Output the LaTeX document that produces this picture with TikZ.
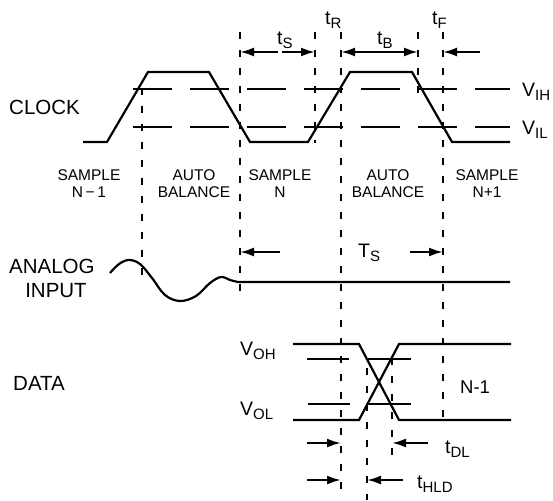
\documentclass[tikz,border=0pt]{standalone}
\usepackage{fontspec}
\setmainfont{Liberation Sans}
\usetikzlibrary{arrows.meta}
\newcommand{\sbx}[1]{\raisebox{-4pt}{\fontsize{15}{15}\selectfont #1}}
\begin{document}
\begin{tikzpicture}[x=1pt,y=-1pt,
  sig/.style={line width=2.2pt, line join=miter},
  vdash/.style={line width=2.1pt, dash pattern=on 7pt off 11pt},
  hdash/.style={line width=2.2pt, dash pattern=on 39pt off 18pt},
  arr/.style={line width=2.2pt, -{Latex[length=14pt,width=9pt]}},
  lab/.style={inner sep=0pt, anchor=base west, font=\fontsize{19.5}{19.5}\selectfont},
  big/.style={lab, font=\fontsize{20.5}{20.5}\selectfont},
  small/.style={inner sep=0pt, anchor=base, font=\fontsize{15.5}{15.5}\selectfont}]
\useasboundingbox (0,0) rectangle (553,500);

% vertical dashed reference lines
\coordinate (a1) at (142,88);  \coordinate (a2) at (142,283);
\coordinate (b1) at (240,32);  \coordinate (b2) at (240,292);
\coordinate (c1) at (315,32);  \coordinate (c2) at (315,143);
\coordinate (d1) at (341,32);  \coordinate (d2) at (341,500);
\coordinate (e1) at (418,32);  \coordinate (e2) at (418,100);
\coordinate (f1) at (443,32);  \coordinate (f2) at (443,422);
\coordinate (g1) at (367,368); \coordinate (g2) at (367,500);
\coordinate (h1) at (392,358); \coordinate (h2) at (392,463);
\foreach \p in {a,b,c,d,e,f,g,h} \draw[vdash] (\p1) -- (\p2);

% clock
\draw[sig] (83,142) -- (107,142) -- (148,72) -- (209,72) -- (250,142) -- (308,142)
  -- (350,72) -- (412,72) -- (452,142) -- (510,142);
\draw[hdash] (133,89) -- (510,89);
\draw[hdash] (133,127) -- (510,127);

% analog input
\draw[sig, line join=round] plot[smooth, tension=0.6] coordinates {(110,273) (119,264) (129,260) (140,264) (152,278) (165,295) (180,301) (196,296) (210,283) (221,277) (230,280) (238,282)} -- (510,282);

% data
\draw[sig] (293,344) -- (359,344) -- (399,420) -- (511,420);
\draw[sig] (293,420) -- (359,420) -- (399,344) -- (511,344);
\draw[sig] (307,359) -- (349,359);
\draw[sig] (368,359) -- (411,359);
\draw[sig] (308,404) -- (350,404);
\draw[sig] (368,404) -- (411,404);

% arrows
\coordinate (tsL) at (278,52); \coordinate (tsR) at (282,52);
\coordinate (tbM) at (380,52);
\coordinate (tfE) at (480,52);
\coordinate (TsL) at (280,252); \coordinate (TsR) at (410,252);
\coordinate (dlL) at (307,443); \coordinate (dlR) at (428,443);
\coordinate (hlL) at (307,480); \coordinate (hlR) at (403,480);
\draw[arr] (tsL) -- (240,52);
\draw[arr] (tsR) -- (315,52);
\draw[arr] (tbM) -- (341,52);
\draw[arr] (tbM) -- (418,52);
\draw[arr] (tfE) -- (443,52);
\draw[arr] (TsL) -- (240,252);
\draw[arr] (TsR) -- (443,252);
\draw[arr] (dlL) -- (341,443);
\draw[arr] (dlR) -- (392,443);
\draw[arr] (hlL) -- (341,480);
\draw[arr] (hlR) -- (367,480);

% labels
\node[big] (clk) at (9,114) {CLOCK};
\node[big] (ana) at (9,273) {ANALOG};
\node[big, anchor=base] (inp) at (56,297) {INPUT};
\node[big] (dat) at (13,390) {DATA};
\node[lab] (vih) at (522,96) {V\sbx{IH}};
\node[lab] (vil) at (522,134) {V\sbx{IL}};
\node[lab] (tS) at (277,45) {t\sbx{S}};
\node[lab] (tR) at (325,25) {t\sbx{R}};
\node[lab] (tB) at (377,45) {t\sbx{B}};
\node[lab] (tF) at (432,25) {t\sbx{F}};
\node[lab] (TS) at (358,257) {T\sbx{S}};
\node[lab] (voh) at (240,355) {V\sbx{OH}};
\node[lab] (vol) at (240,415) {V\sbx{OL}};
\node[lab, font=\fontsize{18.5}{18.5}\selectfont] (nm1) at (460,393) {N-1};
\node[lab] (tDL) at (445,453) {t\sbx{DL}};
\node[lab] (tHLD) at (417,488) {t\sbx{HLD}};

\node[small] (s1a) at (89,180) {SAMPLE};
\node[small] (s1b) at (89,197) {N\,−\,1};
\node[small] (b1a) at (194,180) {AUTO};
\node[small] (b1b) at (194,197) {BALANCE};
\node[small] (s2a) at (280,180) {SAMPLE};
\node[small] (s2b) at (280,197) {N};
\node[small] (b2a) at (388,180) {AUTO};
\node[small] (b2b) at (388,197) {BALANCE};
\node[small] (s3a) at (487,180) {SAMPLE};
\node[small] (s3b) at (487,197) {N+1};
\end{tikzpicture}
\end{document}
